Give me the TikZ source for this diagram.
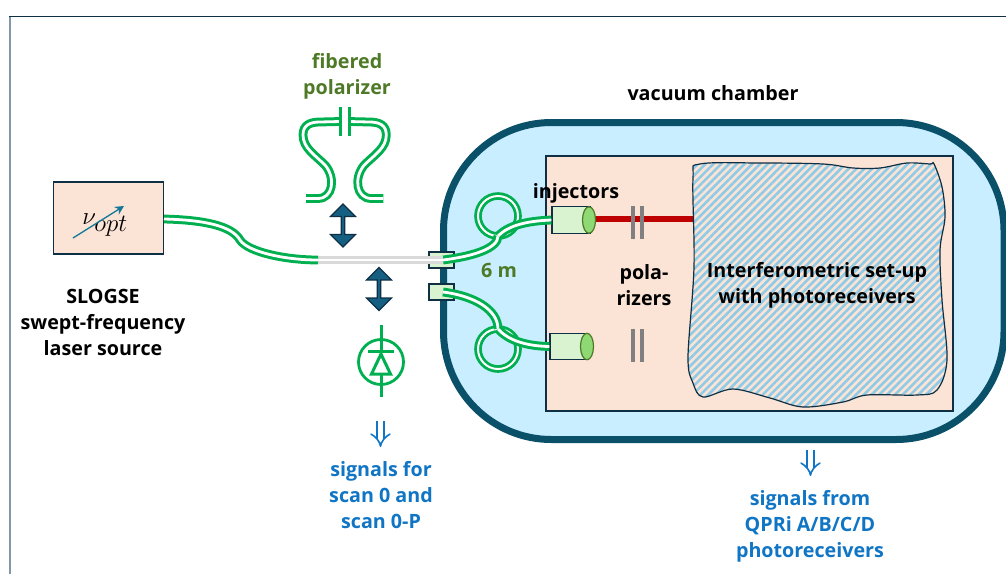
\documentclass[tikz,border=0pt]{standalone}
\usepackage{fontspec}
\setmainfont{Open Sans}
\usetikzlibrary{arrows.meta,shapes.arrows,shapes.geometric,patterns.meta}
\definecolor{fibgreen}{HTML}{00B050}
\definecolor{peach}{HTML}{FBE3D6}
\definecolor{inkdark}{HTML}{0E2F44}
\definecolor{framegrey}{HTML}{8497A8}
\definecolor{chamberblue}{HTML}{0B5069}
\definecolor{chamberfill}{HTML}{C8EEFF}
\definecolor{movearrow}{HTML}{156082}
\definecolor{hatchblue}{HTML}{8FCBE6}
\definecolor{injfill}{HTML}{D9F2D0}
\definecolor{capfill}{HTML}{8ED973}
\definecolor{labgreen}{HTML}{4E7A27}
\definecolor{signalblue}{HTML}{0F75C4}
\tikzset{
  lab/.style={font=\bfseries\fontsize{19.7}{26}\selectfont,align=center,inner sep=0pt},
  greenlab/.style={lab,text=labgreen},
  bluelab/.style={lab,text=signalblue},
  fibre/.style={draw=fibgreen,line width=3pt,double=white,double distance=2.8pt},
  greyfibre/.style={draw=black!15,line width=3pt,double=white,double distance=2.8pt},
  fibreloop/.style={draw=fibgreen,line width=2.8pt,double=white,double distance=2pt,circle,inner sep=0pt,outer sep=0pt,minimum size=40pt},
  port/.style={draw=inkdark,fill=injfill,line width=1.3pt,inner sep=0pt,minimum width=25pt,minimum height=16pt},
  injbody/.style={draw=inkdark,fill=injfill,line width=1.3pt,inner sep=0pt,minimum width=38pt,minimum height=26.5pt},
  injcap/.style={draw=labgreen,fill=capfill,line width=1.2pt,ellipse,inner sep=0pt,minimum width=13pt,minimum height=26.5pt},
  plate/.style={fill=black!50,inner sep=0pt,minimum width=4pt},
  fibplate/.style={fill=fibgreen,inner sep=0pt,minimum width=3pt,minimum height=29pt},
  movearr/.style={double arrow,draw=inkdark,fill=movearrow,line width=1.2pt,inner sep=0pt,shape border rotate=90,
    minimum height=43pt,minimum width=25pt,double arrow head extend=3.5pt,double arrow head indent=0pt},
  signalarr/.style={draw=signalblue,line width=1.6pt,double=white,double distance=5.5pt,-{Implies[length=9pt]}},
  diode/.style={draw=fibgreen,line width=3pt},
}
\begin{document}
\begin{tikzpicture}[x=1pt,y=-1pt]
\useasboundingbox (0,0) rectangle (1006,574);
\draw[framegrey,line width=2pt] (10,574) -- (10,16);
\draw[inkdark,line width=1pt] (9,16) -- (1006,16);
% chamber and what is inside it
\node[draw=chamberblue,fill=chamberfill,line width=7pt,rounded corners=108pt,inner sep=0pt,minimum width=560.5pt,minimum height=317pt] (chamber) at (723.75,281) {};
\node[draw=inkdark,fill=peach,line width=1.5pt,inner sep=0pt,minimum width=407pt,minimum height=255pt] (bench) at (749.5,283.5) {};
\coordinate (beamend) at (694,219);
\draw[red!75!black,line width=6pt] (590,219) -- (beamend);
\draw[draw=inkdark,line width=1.2pt,pattern={Lines[angle=45,distance=5.5pt,line width=2.6pt]},pattern color=hatchblue]
  plot[smooth cycle,tension=0.55] coordinates {(700,164) (760,163) (823,164) (853,168) (880,168) (907,163) (930,164) (934,164) (942,187) (945,217) (940,250) (942,300) (947,360) (937,390) (917,395) (867,395) (843,402) (803,407) (770,398) (733,389) (703,397) (693,383) (688,357) (694,267) (693,178)};
\node[plate,minimum height=33pt] (polAa) at (633,222.5) {};
\node[plate,minimum height=33pt] (polAb) at (642,222.5) {};
\node[plate,minimum height=33pt] (polBa) at (633,345.5) {};
\node[plate,minimum height=33pt] (polBb) at (642,345.5) {};
% ports, loops, injectors
\node[port] (portA) at (441.5,260) {};
\node[port] (portB) at (441.5,292) {};
\coordinate (portAin) at (443,260);
\coordinate (portBin) at (443,292);
\node[injbody] (injA) at (571,220) {};
\node[injbody] (injB) at (569,346.5) {};
\node[injcap] (capA) at (589,220) {};
\node[injcap] (capB) at (587,346.5) {};
\node[fibreloop] (loopA) at (498,216) {};
\node[fibreloop] (loopB) at (498,349) {};
\draw[fibre] (portAin) .. controls (475,256) and (498,248) .. (loopA.south);
\draw[fibre] (loopA.south) .. controls (508,226) and (525,221) .. (injA.west);
\draw[fibre] (portBin) .. controls (475,296) and (498,310) .. (loopB.north);
\draw[fibre] (loopB.north) .. controls (508,340) and (525,346) .. (injB.west);
% source
\node[draw=inkdark,fill=peach,line width=1.5pt,inner sep=0pt,minimum width=110pt,minimum height=72pt] (laser) at (108.5,218) {};
\node[inner sep=0pt,font=\fontsize{25}{25}\selectfont] (nuopt) at (105,225) {$\nu_{\textstyle opt}$};
\coordinate (sweepa) at (73,238);
\coordinate (sweepb) at (124,206);
\draw[movearrow!85!cyan,line width=1.3pt,-{Stealth[length=9pt,width=9pt,inset=3pt]}] (sweepa) -- (sweepb);
\coordinate (fibstart) at (164,219);
\coordinate (splice) at (318,260);
\draw[greyfibre] (splice) -- (portAin);
\draw[fibre] (fibstart) .. controls (205,220) and (232,226) .. (240,240) .. controls (248,252) and (285,260) .. (splice);
% fibered polarizer
\node[fibplate] (fpolA) at (340,121.5) {};
\node[fibplate] (fpolB) at (349,121.5) {};
\coordinate (fpolL) at (306,198.5);
\coordinate (fpolR) at (383.3,198.5);
\draw[fibre] (fpolL) -- (318,198.5) .. controls (333,198.5) and (336,178) .. (325,165) .. controls (315,155) and (303,148) .. (303,135) .. controls (303,125) and (310,122) .. (320,122) -- (fpolA.center);
\draw[fibre] (fpolR) -- (371.3,198.5) .. controls (356.3,198.5) and (353.3,178) .. (364.3,165) .. controls (374.3,155) and (386.3,148) .. (386.3,135) .. controls (386.3,125) and (379.3,122) .. (369.3,122) -- (fpolB.center);
\node[fibplate] at (340,121.5) {};
\node[fibplate] at (349,121.5) {};
\node[movearr] (moveup) at (343,225.5) {};
\node[movearr] (movedown) at (379,289) {};
% photodiode
\node[draw=fibgreen,line width=2.8pt,circle,inner sep=0pt,minimum size=45pt] (pdiode) at (381,362) {};
\coordinate (diodetop) at (381,325);
\coordinate (diodebar) at (381,351);
\coordinate (diodebase) at (381,375);
\coordinate (diodeend) at (381,397);
\draw[diode] (diodetop) -- (diodebar);
\draw[diode] (368,351) -- (394,351);
\draw[diode] (diodebase) -- (diodeend);
\draw[diode,line join=miter] (381,354) -- (371.5,374) -- (390.5,374) -- cycle;
% signals out
\coordinate (sigAa) at (380.5,421);
\coordinate (sigAb) at (380.5,447);
\coordinate (sigBa) at (810.5,450);
\coordinate (sigBb) at (810.5,476);
\draw[signalarr] (sigAa) -- (sigAb);
\draw[signalarr] (sigBa) -- (sigBb);
% labels
\node[greenlab] (polarizerlab) at (347,76) {fibered\\polarizer};
\node[lab] (chamberlab) at (713,93) {vacuum chamber};
\node[lab] (laserlab) at (103,322) {SLOGSE\\swept-frequency\\laser source};
\node[lab] (injectorlab) at (576,193) {injectors};
\node[greenlab] (lengthlab) at (499,270) {6 m};
\node[lab] (platelab) at (644,285) {pola-\\rizers};
\node[lab] (setuplab) at (817,285) {Interferometric set-up\\with photoreceivers};
\node[bluelab] (scanlab) at (381,495) {signals for\\scan 0 and\\scan 0-P};
\node[bluelab] (qprilab) at (810,526) {signals from\\QPRi A/B/C/D\\photoreceivers};
\end{tikzpicture}
\end{document}
